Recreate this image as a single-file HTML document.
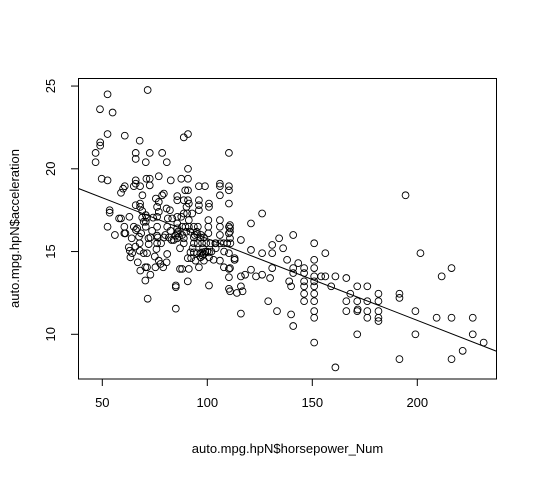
<!DOCTYPE html>
<html><head><meta charset="utf-8"><style>
html,body{margin:0;padding:0;background:#fff;}
svg{display:block;font-family:"Liberation Sans",Arial,sans-serif;}
</style></head><body>
<svg id="chart" width="537" height="477" viewBox="0 0 537 477" xmlns="http://www.w3.org/2000/svg">
<rect x="0" y="0" width="537" height="477" fill="#fff"/>
<g id="points"></g>
<g id="axes"></g>
<rect x="78.5" y="78.5" width="418" height="300.5" fill="none" stroke="#000" stroke-width="1"/>
<text x="287.5" y="453" font-size="13" text-anchor="middle">auto.mpg.hpN$horsepower_Num</text>
<text transform="translate(19,228.5) rotate(-90)" font-size="13" text-anchor="middle">auto.mpg.hpN$acceleration</text>
</svg>
<script>
const xTicks=[50,100,150,200];
const yTicks=[10,15,20,25];
const regIntercept=20.72;
const regSlope=-0.0494;
const hp=[116,116,116,116,116.8,114.1,120.8,120.8,120.8,123.2,126.1,126.1,126.1,129.9,129,130.9,130.9,130.9,133.2,134.2,136.1,138,139.9,140.9,140.9,140.9,140.9,139.9,139,143.3,146.1,146.1,146.1,146.1,146.1,146.1,
150.9,150.9,150.9,150.9,150.9,150.9,150.9,150.9,150.9,150.9,150.9,154.2,156.2,156.2,159,161,161,166.2,166.2,166.2,168.1,171.4,171.4,171.4,171.6,171.4,176.2,176.2,176.2,176.2,181.5,181.5,181.5,181.5,181.5,191.5,191.5,191.5,194.4,199.1,199.1,201.5,209.2,211.6,216.3,216.3,216.3,221.6,226.4,226.4,231.6,
71.6,52.5,48.9,54.9,52.5,60.7,67.8,49,49,88.8,90.8,46.8,46.8,65.9,65.9,72.6,78.5,70.7,80.7,90.8,49.7,52.5,65.9,65.9,71,72.6,76.9,82.6,87.6,90.8,72.6,60.7,59.9,58.9,65,68,69.1,79.3,78.5,75.5,76.9,85.7,85.7,88.8,90.8,89.5,90.8,96,98.9,106,106,106,110.3,110.3,110.3,110.3,96,96,96,100.8,100.8,65.9,68,68,53.5,53.5,58.9,62.9,60.5,60.5,52.5,70.7,70.7,70.7,65,66.6,68.5,67.5,76.1,76.9,76.1,80.6,82.2,76.1,76.1,76.1,81.2,83.3,85.7,87.6,88.8,90.4,90.1,85.7,85.7,85.7,85.7,84.9,86.5,88,89.6,91.2,93.6,95.5,88.8,88.8,93.6,95.5,97.5,99.5,101.5,103.8,106.2,107.8,109.5,100.5,100.5,100.5,106,106,106,110.3,110.3,110.3,110.3,110.3,110.3,106,107.9,100.8,100.8,92,93.6,95.2,96.8,98.4,90.7,92.3,94.4,96.8,98.4,88,91.2,96,87,90.7,100.8,85,85,71.6,85,67.8,67.8,65.8,64.2,63.4,69.7,71.3,62.6,63.1,66.9,68.1,70.5,71.3,72.9,70.5,75.3,76.9,77.7,79,80.6,80.9,75.8,76.4,79.3,81.7,72.1,72.9,73.7,69,69,69.7,71.3,74.2,80.9,82.5,91.2,91.2,92.8,93.6,95.2,96.8,98.4,97.6,97.6,
110.8,110.8,110.8,110.8,110.8,110.8,113,113,111,88,90,86,84,92,94,97,99,102,104,95,80,78,83,87,93,98,104,72,75,66,64,61,58,56,100,103,108,113,118];
const acc=[15.7,11.25,13.5,12.9,12.6,12.5,16.7,15.1,13.9,13.5,17.3,14.9,13.6,13.4,12,15.4,14.9,14,11.4,15.8,15.2,14.5,11.2,16,14,13.7,10.5,12.9,13.2,14.3,14,13.7,13.2,12.9,12.45,12,
15.5,14.5,14,13.5,13.2,12.9,12.45,12,11.4,11,9.5,13.5,14.9,13.5,12.9,13.5,8,13.4,12,11.4,12.45,12.9,12,11.4,11.5,10,12.9,12,11.4,11,12.45,12,11.4,11,10.8,12.45,12.2,8.5,18.4,11.4,10,14.9,11,13.5,14,11,8.5,9,11,10,9.5,
24.76,24.5,23.6,23.4,22.1,22,21.7,21.6,21.4,21.9,22.1,20.96,20.4,20.96,20.6,20.96,20.96,20.4,20.4,20,19.4,19.3,19.3,19.1,19.4,19.4,19.55,19.3,19.4,19.4,19,18.95,18.8,18.55,18.95,18.95,18.4,18.5,18.4,18.2,18,18.35,18.1,18.1,18.1,18.7,18.7,18.95,18.95,19.1,18.95,18.4,20.96,18.95,18.7,17.9,18.1,17.8,17.5,17.9,17.7,17.8,17.9,17.7,17.5,17.35,17,17.1,16.5,16.1,16.5,17.2,16.8,16.5,16.5,16.4,16.1,15.9,17.7,17.4,17.1,17.6,17.5,16.5,15.96,15.5,17,17,17.1,17.1,17.3,17.3,17.7,16.7,16.4,16.1,15.8,15.96,15.9,16.5,16.5,16.5,16.5,16.5,15.8,15.5,15.5,15.5,15.5,15.5,15.5,15.5,15.5,15.5,15.5,16.9,16.5,16.1,16.9,16.5,16,16.5,16.1,14.9,13.95,13.45,12.75,14.45,14.05,14.95,14.65,14.95,14.95,14.9,14.9,14.85,14.6,14.6,14.45,14.65,14.45,13.95,13.95,14.05,13.95,13.2,12.95,12.95,12.85,12.15,11.55,15.5,15.05,15.3,14.9,14.65,14.9,14.9,15.26,15.05,14.35,13.85,14.05,14.05,13.6,13.25,14.05,14.45,14.25,14.05,14.35,14.85,15.15,15.85,15.85,15.85,15.45,15.85,16.25,17.45,17.05,16.8,17.05,17.05,16.5,16.25,17.9,16.9,17.3,15.85,16.05,15.85,15.85,14.95,14.75,
16.6,16.4,16.2,15.8,14,12.6,14.6,14.5,15.5,16,16.2,16.2,15.7,16.2,16,16,15,15,15.5,16.2,16,15.5,15.7,15.2,15.2,15.2,15.2,15.8,14.7,16.3,15.8,16.1,17,16,15,14.5,15,14.5,13.6];
const svgNS='http://www.w3.org/2000/svg';
function xs(v){return 102.3+(v-50)*2.1;}
function ys(v){return 334.3-(v-10)*16.55;}
const pg=document.getElementById('points');
for(let i=0;i<hp.length;i++){
  const c=document.createElementNS(svgNS,'circle');
  c.setAttribute('cx',xs(hp[i]).toFixed(2));
  c.setAttribute('cy',ys(acc[i]).toFixed(2));
  c.setAttribute('r','3.4');
  c.setAttribute('fill','none');
  c.setAttribute('stroke','#000');
  c.setAttribute('stroke-width','0.9');
  
  
  pg.appendChild(c);
}
const ax=document.getElementById('axes');
const x0=(78.5-102.3)/2.1+50, x1=(496.5-102.3)/2.1+50;
const ln=document.createElementNS(svgNS,'line');
ln.setAttribute('x1',xs(x0));ln.setAttribute('y1',ys(regIntercept+regSlope*x0));
ln.setAttribute('x2',xs(x1));ln.setAttribute('y2',ys(regIntercept+regSlope*x1));
ln.setAttribute('stroke','#000');ln.setAttribute('stroke-width','1');


ax.appendChild(ln);
const xl=document.createElementNS(svgNS,'line');
xl.setAttribute('x1',xs(xTicks[0]));xl.setAttribute('x2',xs(xTicks[xTicks.length-1]));
xl.setAttribute('y1','379');xl.setAttribute('y2','379');xl.setAttribute('stroke','#000');


ax.appendChild(xl);
xTicks.forEach(t=>{
  const l=document.createElementNS(svgNS,'line');
  l.setAttribute('x1',xs(t));l.setAttribute('x2',xs(t));l.setAttribute('y1','379');l.setAttribute('y2','386');l.setAttribute('stroke','#000');
  
  
  ax.appendChild(l);
  const tx=document.createElementNS(svgNS,'text');
  tx.setAttribute('x',xs(t));tx.setAttribute('y','407');tx.setAttribute('font-size','13');tx.setAttribute('text-anchor','middle');
  tx.textContent=t;
  
  
  ax.appendChild(tx);
});
const yl=document.createElementNS(svgNS,'line');
yl.setAttribute('x1','78.5');yl.setAttribute('x2','78.5');
yl.setAttribute('y1',ys(yTicks[0]));yl.setAttribute('y2',ys(yTicks[yTicks.length-1]));yl.setAttribute('stroke','#000');


ax.appendChild(yl);
yTicks.forEach(t=>{
  const l=document.createElementNS(svgNS,'line');
  l.setAttribute('x1','71');l.setAttribute('x2','78.5');l.setAttribute('y1',ys(t));l.setAttribute('y2',ys(t));l.setAttribute('stroke','#000');
  
  
  ax.appendChild(l);
  const tx=document.createElementNS(svgNS,'text');
  tx.setAttribute('transform','translate(55,'+ys(t)+') rotate(-90)');
  tx.setAttribute('font-size','13');tx.setAttribute('text-anchor','middle');
  tx.textContent=t;
  
  
  ax.appendChild(tx);
});
</script>
</body></html>
